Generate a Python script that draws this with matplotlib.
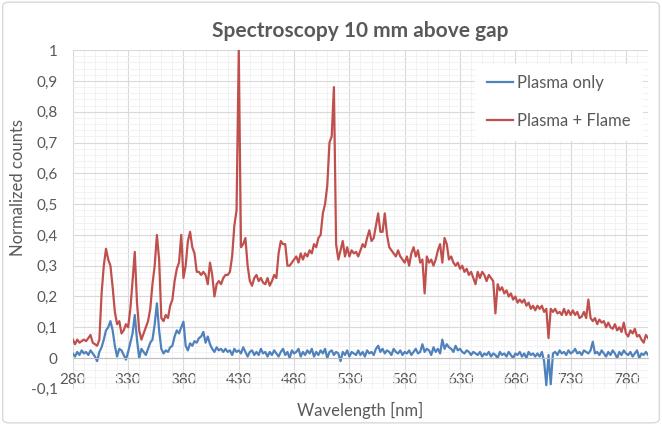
import matplotlib
matplotlib.use("Agg")
import matplotlib.pyplot as plt
from matplotlib.patches import FancyBboxPatch
from matplotlib.ticker import MultipleLocator, FuncFormatter
import numpy as np

wavelength = np.arange(280, 802, 2)

# Plasma + Flame (red)
plasma_flame = [
    0.06, 0.045, 0.06, 0.05, 0.055, 0.06, 0.055, 0.065, 0.075, 0.05,
    0.045, 0.04, 0.06, 0.21, 0.30, 0.355, 0.32, 0.30, 0.23, 0.15,
    0.11, 0.12, 0.08, 0.09, 0.11, 0.10, 0.16, 0.25, 0.345, 0.18,
    0.09, 0.06, 0.08, 0.10, 0.12, 0.16, 0.24, 0.30, 0.40, 0.32,
    0.13, 0.12, 0.14, 0.13, 0.17, 0.19, 0.25, 0.29, 0.31, 0.40,
    0.26, 0.30, 0.38, 0.41, 0.36, 0.34, 0.28, 0.28, 0.27, 0.28,
    0.27, 0.24, 0.31, 0.27, 0.20, 0.24, 0.25, 0.24, 0.26, 0.27,
    0.27, 0.28, 0.33, 0.43, 0.48, 1.00, 0.36, 0.37, 0.39, 0.30,
    0.25, 0.235, 0.26, 0.27, 0.25, 0.26, 0.245, 0.24, 0.26, 0.235,
    0.25, 0.27, 0.26, 0.34, 0.38, 0.37, 0.37, 0.30, 0.30, 0.31,
    0.32, 0.33, 0.31, 0.34, 0.32, 0.34, 0.33, 0.35, 0.34, 0.37,
    0.36, 0.39, 0.40, 0.47, 0.50, 0.56, 0.70, 0.72, 0.88, 0.37,
    0.32, 0.35, 0.38, 0.33, 0.36, 0.33, 0.35, 0.34, 0.345, 0.33,
    0.35, 0.37, 0.36, 0.39, 0.415, 0.38, 0.39, 0.43, 0.47, 0.41,
    0.41, 0.47, 0.40, 0.36, 0.35, 0.34, 0.33, 0.35, 0.33, 0.32,
    0.31, 0.33, 0.30, 0.34, 0.36, 0.33, 0.35, 0.31, 0.32, 0.21,
    0.33, 0.31, 0.32, 0.30, 0.32, 0.35, 0.37, 0.31, 0.39, 0.37,
    0.32, 0.33, 0.31, 0.30, 0.31, 0.29, 0.30, 0.28, 0.29, 0.27,
    0.28, 0.26, 0.24, 0.28, 0.26, 0.28, 0.27, 0.25, 0.27, 0.26,
    0.25, 0.145, 0.24, 0.22, 0.23, 0.21, 0.22, 0.20, 0.21, 0.19,
    0.20, 0.18, 0.19, 0.18, 0.19, 0.17, 0.18, 0.16, 0.17, 0.155,
    0.17, 0.16, 0.17, 0.15, 0.16, 0.065, 0.16, 0.15, 0.16, 0.145,
    0.15, 0.14, 0.16, 0.14, 0.155, 0.14, 0.155, 0.14, 0.15, 0.13,
    0.135, 0.15, 0.13, 0.19, 0.13, 0.12, 0.13, 0.11, 0.125, 0.115,
    0.12, 0.10, 0.115, 0.10, 0.095, 0.11, 0.09, 0.10, 0.085, 0.115,
    0.08, 0.07, 0.09, 0.08, 0.095, 0.07, 0.075, 0.06, 0.05, 0.075,
    0.065,
]

# Plasma only (blue)
plasma_only = [
    0.015, 0.005, 0.02, 0.01, 0.025, 0.015, 0.02, 0.01, 0.025, 0.015,
    0.005, -0.01, 0.02, 0.035, 0.06, 0.09, 0.10, 0.12, 0.09, 0.04,
    0.005, 0.03, 0.025, 0.01, -0.005, 0.02, 0.05, 0.08, 0.14, 0.06,
    0.0, 0.03, 0.02, 0.01, 0.03, 0.05, 0.06, 0.11, 0.178, 0.09,
    0.03, 0.015, 0.025, 0.02, 0.035, 0.04, 0.07, 0.09, 0.08, 0.10,
    0.118, 0.04, 0.025, 0.048, 0.04, 0.055, 0.05, 0.065, 0.07, 0.085,
    0.05, 0.07, 0.045, 0.03, 0.02, 0.035, 0.025, 0.03, 0.02, 0.03,
    0.02, 0.025, 0.01, 0.03, 0.02, 0.025, 0.015, 0.035, 0.02, 0.005,
    0.02, 0.025, 0.01, 0.02, 0.01, 0.03, 0.015, 0.02, 0.005, 0.02,
    0.01, 0.025, 0.015, 0.005, 0.02, 0.03, 0.01, 0.02, 0.0, 0.025,
    0.015, 0.02, 0.03, 0.005, 0.02, 0.01, 0.025, 0.015, 0.03, 0.005,
    0.02, 0.01, 0.025, 0.015, 0.03, 0.0, 0.02, 0.025, 0.01, 0.02,
    0.015, -0.01, 0.02, 0.01, 0.025, 0.005, 0.02, 0.015, 0.01, 0.025,
    0.01, 0.02, 0.005, 0.025, 0.015, 0.02, 0.01, 0.03, 0.04, 0.02,
    0.03, 0.015, 0.025, 0.02, 0.01, 0.03, 0.02, 0.015, 0.025, 0.01,
    0.02, 0.015, 0.025, 0.01, 0.02, 0.03, 0.015, 0.02, 0.045, 0.02,
    0.03, 0.025, 0.01, 0.035, 0.02, 0.03, 0.015, 0.06, 0.03, 0.045,
    0.035, 0.03, 0.02, 0.04, 0.025, 0.03, 0.02, 0.015, 0.025, 0.02,
    0.01, 0.02, 0.015, 0.01, 0.02, 0.005, 0.015, 0.01, 0.02, 0.005,
    0.015, 0.01, 0.0, 0.02, 0.01, 0.015, 0.005, 0.02, 0.01, 0.0,
    0.015, 0.01, 0.02, 0.005, 0.015, 0.0, 0.02, 0.01, 0.015, 0.005,
    0.015, 0.005, 0.02, -0.01, -0.088, 0.01, -0.085, 0.015, 0.02, 0.01,
    0.025, 0.015, 0.02, 0.01, 0.025, 0.015, 0.02, 0.03, 0.015, 0.02,
    0.01, 0.025, 0.02, 0.015, 0.025, 0.053, 0.015, 0.02, 0.01, 0.025,
    0.015, 0.005, 0.02, 0.01, 0.025, 0.015, 0.0, 0.02, 0.01, 0.025,
    0.015, 0.01, 0.02, 0.005, 0.015, 0.025, 0.0, 0.015, 0.01, 0.02,
    0.01,
]

blue = '#4F81BD'
red = '#C0504D'
txt_col = '#595959'

plt.rcParams['font.family'] = ['Lato', 'DejaVu Sans']

fig = plt.figure(figsize=(6.62, 4.25), dpi=100)
ax = fig.add_axes([0.110, 0.085, 0.869, 0.797])

ax.plot(wavelength, plasma_only, color=blue, lw=1.6, label='Plasma only')
ax.plot(wavelength, plasma_flame, color=red, lw=1.6, label='Plasma + Flame')

ax.set_xlim(280, 800)
ax.set_ylim(-0.1, 1.0)
ax.xaxis.set_major_locator(MultipleLocator(50))
ax.xaxis.set_minor_locator(MultipleLocator(10))
ax.yaxis.set_major_locator(MultipleLocator(0.1))
ax.yaxis.set_minor_locator(MultipleLocator(0.02))
ax.set_xticks(np.arange(280, 800, 50))

ax.yaxis.set_major_formatter(FuncFormatter(lambda v, p: ('%g' % round(v, 2)).replace('.', ',')))

ax.grid(which='major', color='#D9D9D9', lw=0.8)
ax.grid(which='minor', color='#F0F0F0', lw=0.6)
ax.set_axisbelow(True)

for s in ['top', 'right', 'left']:
    ax.spines[s].set_visible(False)
ax.spines['bottom'].set_position(('data', 0))
ax.spines['bottom'].set_color('#BFBFBF')
ax.spines['bottom'].set_linewidth(0.8)

ax.tick_params(which='both', length=0)
ax.tick_params(axis='x', pad=11, labelsize=11, labelcolor=txt_col)
ax.tick_params(axis='y', pad=11, labelsize=11, labelcolor=txt_col)

fig.text(0.544, 0.928, 'Spectroscopy 10 mm above gap', ha='center', va='center',
         fontsize=15, fontweight='bold', color=txt_col)
fig.text(0.544, 0.035, 'Wavelength [nm]', ha='center', va='center',
         fontsize=12, color=txt_col)
fig.text(0.027, 0.558, 'Normalized counts', ha='center', va='center',
         rotation=90, fontsize=12, color=txt_col)

leg = ax.legend(loc='upper right', bbox_to_anchor=(1.005, 0.985), frameon=True,
                fontsize=12, labelspacing=1.3, handlelength=1.6, handletextpad=0.25,
                borderpad=0.7, labelcolor=txt_col)
leg.get_frame().set_facecolor('white')
leg.get_frame().set_edgecolor('none')
leg.get_frame().set_alpha(1)

border = FancyBboxPatch((0.004, 0.005), 0.992, 0.99, boxstyle='round,pad=0,rounding_size=0.01',
                        transform=fig.transFigure, fill=False, edgecolor='#D9D9D9', lw=1)
fig.patches.append(border)

fig.savefig('out.png', dpi=100, facecolor='white')
